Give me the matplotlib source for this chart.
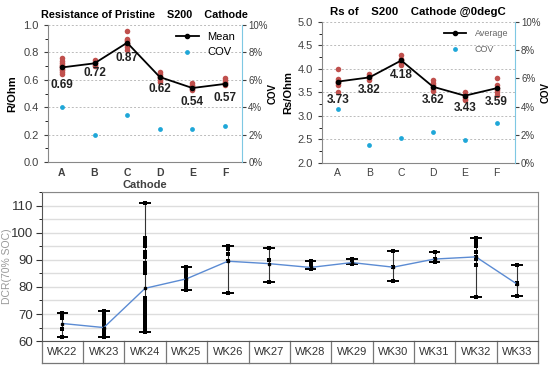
import matplotlib
matplotlib.use("Agg")
import matplotlib.pyplot as plt
import numpy as np
from matplotlib.ticker import MultipleLocator, FuncFormatter

plt.rcParams["font.family"] = ["Liberation Sans", "DejaVu Sans"]

# ---------------- data ----------------
cathodes = ["A", "B", "C", "D", "E", "F"]

r_mean = [0.69, 0.72, 0.87, 0.62, 0.54, 0.57]
r_cov = [0.040, 0.020, 0.034, 0.024, 0.024, 0.026]
r_points = [
    [0.64, 0.66, 0.67, 0.68, 0.69, 0.70, 0.71, 0.72, 0.74, 0.76],
    [0.70, 0.71, 0.72, 0.73, 0.745],
    [0.82, 0.84, 0.85, 0.86, 0.87, 0.88, 0.89, 0.90, 0.955],
    [0.585, 0.60, 0.61, 0.62, 0.63, 0.645, 0.66],
    [0.525, 0.535, 0.545, 0.555, 0.565, 0.575],
    [0.565, 0.575, 0.585, 0.60, 0.615],
]

rs_mean = [3.73, 3.82, 4.18, 3.62, 3.43, 3.59]
rs_cov = [0.038, 0.013, 0.0175, 0.022, 0.016, 0.028]
rs_points = [
    [3.51, 3.65, 3.69, 3.72, 3.75, 3.78, 3.99],
    [3.77, 3.80, 3.83, 3.86, 3.90],
    [4.08, 4.12, 4.15, 4.18, 4.22, 4.29],
    [3.53, 3.57, 3.61, 3.65, 3.70, 3.76],
    [3.33, 3.37, 3.41, 3.45, 3.51],
    [3.44, 3.50, 3.55, 3.60, 3.65, 3.80],
]

weeks = ["WK22", "WK23", "WK24", "WK25", "WK26", "WK27",
         "WK28", "WK29", "WK30", "WK31", "WK32", "WK33"]
dcr_mean = [66.5, 65.0, 79.5, 83.0, 89.5, 88.6, 87.2, 89.0, 87.3, 90.3, 91.1, 81.0]
dcr_points = [
    [70.5, 69.5, 68.5, 64.5, 61.5],
    [71, 70, 69, 68, 67, 66, 65, 64, 63, 62, 61.5],
    [111, 98, 97, 96, 95, 93, 92, 91, 89, 88, 87, 86, 85, 76, 75, 74, 73, 72,
     71, 70, 69, 68, 67, 66, 65, 64, 63.5],
    [87.5, 87, 86, 85, 84, 83, 82, 81, 80, 79],
    [95.3, 95, 94, 92, 89.5, 77.8],
    [94.4, 90, 81.9],
    [89.6, 88.5, 87.5, 86.5],
    [90.5, 90, 89.5, 89, 88.6],
    [93.3, 87.3, 82.2],
    [92.8, 90.5, 89.3],
    [98.1, 97, 96, 95, 93, 91, 90.5, 88, 76.2],
    [88, 81.5, 81, 76.7],
]

# ---------------- figure ----------------
fig = plt.figure(figsize=(5.5, 3.66), dpi=100)
red = "#c0504d"
cyan = "#1fa7d8"
gray_txt = "#404040"


def top_panel(rect, mean, cov, points, ylim, xlim, ystep, title, ylabel,
              leg_label, label_off, xlabel=None, bold_x=True, ylab_x=-0.16,
              cov_x=1.13, title_size=8.5):
    ax = fig.add_axes(rect)
    x = np.arange(len(cathodes))
    for i, pts in enumerate(points):
        ax.scatter([x[i]] * len(pts), pts, s=16, color=red, zorder=3, lw=0)
    ax.plot(x, mean, color="black", lw=1.3, marker="o", ms=3, zorder=4,
            label=leg_label)
    ax.set_ylim(*ylim)
    ax.set_xlim(*xlim)
    ax.yaxis.set_major_locator(MultipleLocator(ystep))
    ax.yaxis.set_minor_locator(MultipleLocator(ystep / 2))
    ax.grid(axis="y", ls=(0, (2, 2)), color="#bbbbbb", lw=0.7)
    ax.set_axisbelow(True)
    ax.set_xticks(x)
    ax.set_xticklabels(cathodes, fontsize=7.5,
                       fontweight="bold" if bold_x else "normal",
                       color=gray_txt)
    ax.tick_params(axis="y", labelsize=8, colors=gray_txt, length=3)
    ax.tick_params(axis="y", which="minor", length=2)
    ax.tick_params(axis="x", length=0, pad=4)
    for s in ["top", "right"]:
        ax.spines[s].set_visible(False)
    for s in ["left", "bottom"]:
        ax.spines[s].set_color("#888888")
    ax.set_ylabel(ylabel, fontsize=8, fontweight="bold")
    ax.yaxis.set_label_coords(ylab_x, 0.5)
    ax.set_title(title, fontsize=title_size, fontweight="bold", pad=5)
    if xlabel:
        ax.set_xlabel(xlabel, fontsize=8, fontweight="bold", labelpad=2,
                      color=gray_txt)
    for i, m in enumerate(mean):
        ax.text(x[i], m - label_off[i], f"{m:.2f}", ha="center",
                va="center", fontsize=8.5, fontweight="bold", color="#222222")
    ax2 = ax.twinx()
    ax2.scatter(x, cov, s=12, color=cyan, zorder=3, lw=0, label="COV")
    ax2.set_ylim(0, 0.10)
    ax2.yaxis.set_major_locator(MultipleLocator(0.02))
    ax2.yaxis.set_major_formatter(FuncFormatter(lambda v, p: f"{v*100:.0f}%"))
    ax2.tick_params(axis="y", labelsize=7, colors=gray_txt, length=3, pad=1.5)
    for s in ["top", "left", "bottom"]:
        ax2.spines[s].set_visible(False)
    ax2.spines["right"].set_color("#7ec8e3")
    ax2.set_ylabel("COV", fontsize=7, fontweight="bold")
    ax2.yaxis.set_label_coords(cov_x, 0.5)
    h1, l1 = ax.get_legend_handles_labels()
    h2, l2 = ax2.get_legend_handles_labels()
    leg = ax2.legend(h1 + h2, l1 + l2, loc="upper right", frameon=False,
                     fontsize=8, handlelength=2, borderaxespad=0.2,
                     labelspacing=0.5)
    return ax, leg


top_panel([0.087, 0.557, 0.353, 0.375], r_mean, r_cov, r_points, (0, 1),
          (-0.43, 5.52), 0.2, "Resistance of Pristine    S200    Cathode",
          "R/Ohm", "Mean", [0.13, 0.073, 0.113, 0.09, 0.10, 0.10],
          xlabel="Cathode", ylab_x=-0.16, cov_x=1.13, title_size=7.8)
_, leg2 = top_panel([0.585, 0.555, 0.351, 0.385], rs_mean, rs_cov, rs_points,
                    (2, 5), (-0.5, 5.57), 0.5,
                    "Rs of    S200    Cathode @0degC", "Rs/Ohm",
                    "Average", [0.40, 0.27, 0.31, 0.29, 0.27, 0.29],
                    bold_x=False, ylab_x=-0.15, cov_x=1.135, title_size=8.2)
for t in leg2.get_texts():
    t.set_color("#666666")
    t.set_fontsize(6.5)

# ---------------- bottom panel ----------------
ax = fig.add_axes([0.076, 0.068, 0.902, 0.407])
xw = np.arange(len(weeks))
for i, pts in enumerate(dcr_points):
    lo, hi = min(pts), max(pts)
    ax.vlines(xw[i], lo, hi, color="#333333", lw=0.8, zorder=2)
    ax.hlines([lo, hi], xw[i] - 0.14, xw[i] + 0.14, color="black", lw=1.4,
              zorder=3)
    ax.scatter([xw[i]] * len(pts), pts, marker="s", s=6, color="black",
               zorder=4, lw=0)
ax.plot(xw, dcr_mean, color="#5b8bd3", lw=1.0, marker="s", ms=2,
        mfc="black", mec="black", zorder=5)
ax.set_xlim(-0.5, len(weeks) - 0.5)
ax.set_ylim(60, 115)
ax.yaxis.set_major_locator(MultipleLocator(10))
ax.yaxis.set_minor_locator(MultipleLocator(5))
ax.grid(axis="y", which="both", color="#dddddd", lw=1.0)
ax.set_axisbelow(True)
ax.set_xticks([])
ax.tick_params(axis="y", labelsize=9.5, colors="#333333", length=4, pad=2)
ax.tick_params(axis="y", which="minor", length=2.5)
for s in ax.spines.values():
    s.set_color("#888888")
ax.spines["left"].set_color("#555555")
ax.spines["bottom"].set_color("#555555")
ax.set_ylabel("DCR(70% SOC)", fontsize=7.5, color="#999999")
ax.yaxis.set_label_coords(-0.06, 0.5)
# category table under axis
tr = ax.get_xaxis_transform()
tab_h = 0.148
for b in np.arange(len(weeks) + 1) - 0.5:
    ax.plot([b, b], [0, -tab_h], transform=tr, color="#777777", lw=0.9,
            clip_on=False)
ax.plot([-0.5, len(weeks) - 0.5], [-tab_h, -tab_h], transform=tr,
        color="#777777", lw=0.9, clip_on=False)
for i, w in enumerate(weeks):
    ax.text(xw[i], -tab_h / 2, w, transform=tr, ha="center", va="center",
            fontsize=8, color="#333333")

fig.savefig("out.png", dpi=100)
